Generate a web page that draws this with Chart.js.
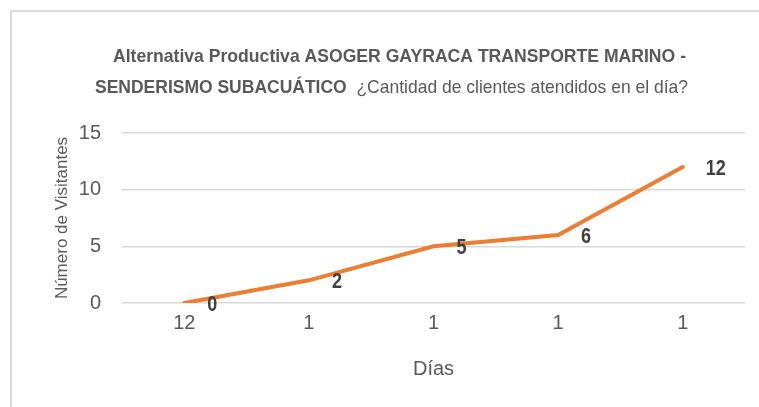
<!DOCTYPE html>
<html>
<head>
<meta charset="utf-8">
<script src="https://cdn.jsdelivr.net/npm/chart.js@4"></script>
<style>
  body { margin: 0; background: #fff; }
  #marco { position: absolute; left: 10px; top: 10px; width: 800px; height: 450px; border: 2px solid #d9d9d9; box-sizing: border-box; }
  #wrap { position: absolute; left: 0; top: 0; width: 759px; height: 407px; }
</style>
</head>
<body>
<div id="marco"></div>
<div id="wrap"><canvas id="grafico"></canvas></div>
<script>
// datos
const categorias = ['12', '1', '1', '1', '1']
const visitantes = [0, 2, 5, 6, 12]
const ticksY = [0, 5, 10, 15]

const fuente = "'Liberation Sans', Arial, sans-serif"
const gris = '#595959'

// texto estrecho (simula Arial Narrow)
function textoEstrecho(ctx, partes, xCentro, y, ancho) {
  let total = 0
  partes.forEach(p => { ctx.font = p.font; p.w = ctx.measureText(p.t).width; total += p.w })
  const k = ancho / total
  ctx.save()
  ctx.translate(xCentro - ancho / 2, y)
  ctx.scale(k, 1)
  let x = 0
  partes.forEach(p => { ctx.font = p.font; ctx.fillText(p.t, x, 0); x += p.w })
  ctx.restore()
}

// titulo con partes en negrita y normal
const tituloPlugin = {
  id: 'tituloMixto',
  afterDraw(chart) {
    const ctx = chart.ctx
    ctx.save()
    ctx.fillStyle = gris
    ctx.textBaseline = 'middle'
    ctx.textAlign = 'left'
    const negrita = 'bold 19px ' + fuente
    const normal = '19px ' + fuente
    textoEstrecho(ctx, [{ t: 'Alternativa Productiva ASOGER GAYRACA TRANSPORTE MARINO -', font: negrita }], 399.5, 57, 573)
    textoEstrecho(ctx, [
      { t: 'SENDERISMO SUBACUÁTICO  ', font: negrita },
      { t: '¿Cantidad de clientes atendidos en el día?', font: normal }
    ], 391.5, 88, 593)
    ctx.restore()
  }
}

// etiquetas de valores
const etiquetasPlugin = {
  id: 'etiquetas',
  afterDatasetsDraw(chart) {
    const ctx = chart.ctx
    const meta = chart.getDatasetMeta(0)
    ctx.save()
    ctx.font = 'bold 22px ' + fuente
    ctx.fillStyle = '#404040'
    ctx.textAlign = 'left'
    ctx.textBaseline = 'middle'
    meta.data.forEach((p, i) => {
      ctx.save()
      ctx.translate(p.x + 23, p.y + 2)
      ctx.scale(0.82, 1)
      ctx.fillText(chart.data.datasets[0].data[i], 0, 0)
      ctx.restore()
    })
    ctx.restore()
  }
}

const data = {
  labels: categorias,
  datasets: [{
    label: 'Visitantes',
    data: visitantes,
    borderColor: '#ED7D31',
    backgroundColor: '#ED7D31',
    borderWidth: 4,
    pointRadius: 0,
    tension: 0,
    borderCapStyle: 'round'
  }]
}

const config = {
  type: 'line',
  data: data,
  options: {
    responsive: false,
    animation: false,
    devicePixelRatio: 1,
    layout: { padding: { top: 133, left: 48, right: 14, bottom: 22 } },
    plugins: {
      legend: { display: false },
      tooltip: { enabled: false },
      title: { display: false }
    },
    scales: {
      x: {
        offset: true,
        grid: { display: false },
        border: { display: false },
        ticks: { color: gris, font: { family: fuente, size: 20 }, padding: 0 },
        title: { display: true, text: 'Días', color: gris, font: { family: fuente, size: 20 }, padding: { top: 22 } }
      },
      y: {
        min: 0,
        max: 15,
        afterBuildTicks(scale) { scale.ticks = ticksY.map(v => ({ value: v })) },
        afterFit(scale) { scale.width = 74 },
        grid: { color: '#d9d9d9', lineWidth: 1.5, drawTicks: false },
        border: { display: false },
        ticks: { color: gris, font: { family: fuente, size: 20 }, padding: 21 },
        title: { display: true, text: 'Número de Visitantes', color: gris, font: { family: fuente, size: 17 }, padding: { bottom: 4 } }
      }
    }
  },
  plugins: [tituloPlugin, etiquetasPlugin]
}

const canvas = document.getElementById('grafico')
canvas.width = 759
canvas.height = 407
const myChart = new Chart(canvas, config)
</script>
</body>
</html>
